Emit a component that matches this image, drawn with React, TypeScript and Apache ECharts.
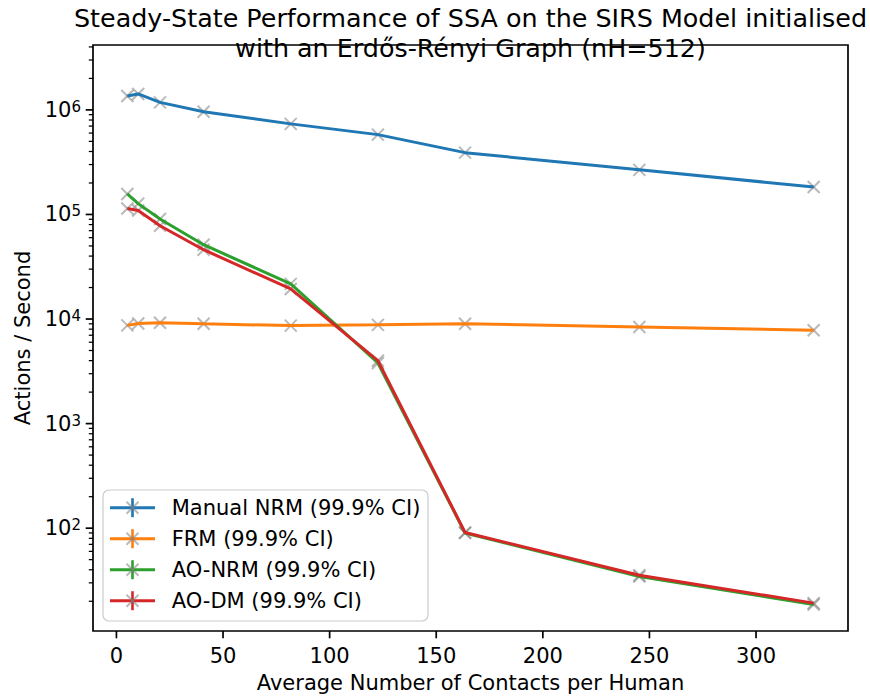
import { useEffect, useRef } from 'react';
import * as echarts from 'echarts';

// ---- data ----
const contacts = [5.11, 10.22, 20.44, 40.88, 81.76, 122.64, 163.52, 245.28, 327.04];
const manualNRM = [1.36e6, 1.42e6, 1.18e6, 9.6e5, 7.35e5, 5.8e5, 3.9e5, 2.67e5, 1.83e5];
const frm = [8.7e3, 9.05e3, 9.2e3, 9.0e3, 8.65e3, 8.8e3, 9.0e3, 8.4e3, 7.8e3];
const aoNRM = [1.57e5, 1.27e5, 9.05e4, 5.14e4, 2.17e4, 3.8e3, 90, 34.5, 18.6];
const aoDM = [1.14e5, 1.09e5, 7.8e4, 4.6e4, 1.94e4, 4.0e3, 91, 35.5, 19.2];

const seriesNames = ['Manual NRM (99.9% CI)', 'FRM (99.9% CI)', 'AO-NRM (99.9% CI)', 'AO-DM (99.9% CI)'];
const seriesValues = [manualNRM, frm, aoNRM, aoDM];
const colors = ['#1f77b4', '#ff7f0e', '#2ca02c', '#d62728'];

const xTicks = [0, 50, 100, 150, 200, 250, 300];
const yMajorTicks = [1e2, 1e3, 1e4, 1e5, 1e6];
const yMinorMultipliers = [2, 3, 4, 5, 6, 7, 8, 9];

const titleLines = [
  'Steady-State Performance of SSA on the SIRS Model initialised',
  'with an Erdős-Rényi Graph (nH=512)',
];
const xLabel = 'Average Number of Contacts per Human';
const yLabel = 'Actions / Second';

const X_MIN = -10.99;
const X_MAX = 343.14;
const Y_MIN = Math.pow(10, 1.0167);
const Y_MAX = Math.pow(10, 6.6205);

const FONT = '"DejaVu Sans", "Liberation Sans", sans-serif';

export default function App() {
  const ref = useRef<HTMLDivElement>(null);

  useEffect(() => {
    if (!ref.current) return;
    const chart = echarts.init(ref.current, null, { renderer: 'svg' });

    // tick data: [x, y, kind] kind 0 = x major, 1 = y major, 2 = y minor
    const tickData: number[][] = [];
    xTicks.forEach((t) => tickData.push([t, Y_MIN, 0]));
    yMajorTicks.forEach((t) => tickData.push([X_MIN, t, 1]));
    for (let e = 1; e <= 6; e++) {
      yMinorMultipliers.forEach((m) => {
        const v = m * Math.pow(10, e);
        if (v > Y_MIN && v < Y_MAX) tickData.push([X_MIN, v, 2]);
      });
    }

    const series: any[] = [];
    seriesValues.forEach((vals, i) => {
      const data = contacts.map((x, j) => [x, vals[j]]);
      series.push({
        name: seriesNames[i],
        type: 'line',
        data,
        showSymbol: false,
        symbol: 'none',
        lineStyle: { color: colors[i], width: 3 },
        itemStyle: { color: colors[i] },
        z: 2,
      });
      series.push({
        name: seriesNames[i] + ' markers',
        type: 'custom',
        data,
        z: 2,
        clip: false,
        renderItem: (_p: any, api: any) => {
          const c = api.coord([api.value(0), api.value(1)]);
          const s = 6;
          const st = { stroke: 'rgba(128,128,128,0.55)', lineWidth: 2, fill: 'none' };
          return {
            type: 'group',
            children: [
              { type: 'line', shape: { x1: c[0] - s, y1: c[1] - s, x2: c[0] + s, y2: c[1] + s }, style: st },
              { type: 'line', shape: { x1: c[0] - s, y1: c[1] + s, x2: c[0] + s, y2: c[1] - s }, style: st },
            ],
          };
        },
      });
    });

    series.push({
      name: 'ticks',
      type: 'custom',
      data: tickData,
      clip: false,
      silent: true,
      z: 5,
      encode: { x: 0, y: 1 },
      renderItem: (_p: any, api: any) => {
        const kind = api.value(2);
        if (kind === 0) {
          const p = api.coord([api.value(0), Y_MIN]);
          return {
            type: 'line',
            shape: { x1: p[0], y1: p[1], x2: p[0], y2: p[1] + 7.3 },
            style: { stroke: '#000', lineWidth: 1.7 },
          };
        }
        const p = api.coord([X_MIN, api.value(1)]);
        const len = kind === 1 ? 7.3 : 4.2;
        return {
          type: 'line',
          shape: { x1: p[0] - len, y1: p[1], x2: p[0], y2: p[1] },
          style: { stroke: '#000', lineWidth: kind === 1 ? 1.7 : 1.25 },
        };
      },
    });

    // legend drawn as graphic
    const legendX = 103;
    const legendY = 490;
    const rowH = 31;
    const legendChildren: any[] = [
      {
        type: 'rect',
        shape: { x: legendX, y: legendY, width: 325, height: 131, r: 6 },
        style: { fill: 'rgba(255,255,255,0.8)', stroke: '#cccccc', lineWidth: 1.2 },
      },
    ];
    seriesNames.forEach((name, i) => {
      const cy = legendY + 17.7 + rowH * i;
      const hx = 132.5;
      legendChildren.push(
        { type: 'line', shape: { x1: 110, y1: cy, x2: 155, y2: cy }, style: { stroke: colors[i], lineWidth: 3 } },
        { type: 'line', shape: { x1: hx, y1: cy - 9.5, x2: hx, y2: cy + 9.5 }, style: { stroke: colors[i], lineWidth: 2.6 } },
        { type: 'line', shape: { x1: hx - 6, y1: cy - 6, x2: hx + 6, y2: cy + 6 }, style: { stroke: 'rgba(128,128,128,0.55)', lineWidth: 2 } },
        { type: 'line', shape: { x1: hx - 6, y1: cy + 6, x2: hx + 6, y2: cy - 6 }, style: { stroke: 'rgba(128,128,128,0.55)', lineWidth: 2 } },
        {
          type: 'text',
          x: 171.7,
          y: cy,
          style: {
            text: name,
            fontSize: 21,
            fontFamily: FONT,
            fill: '#000',
            align: 'left',
            verticalAlign: 'middle',
            textAlign: 'left',
            textVerticalAlign: 'middle',
          },
        }
      );
    });

    const titleGraphics = titleLines.map((t, i) => ({
      type: 'text',
      x: 470.5,
      y: 17.5 + 30 * i,
      style: {
        text: t,
        fontSize: 25.4,
        fontFamily: FONT,
        fill: '#000',
        align: 'center',
        verticalAlign: 'middle',
        textAlign: 'center',
        textVerticalAlign: 'middle',
      },
    }));

    const option: any = {
      animation: false,
      backgroundColor: '#ffffff',
      textStyle: { fontFamily: FONT },
      grid: {
        left: 93,
        right: 22,
        top: 45,
        bottom: 66,
        show: true,
        borderColor: '#000',
        borderWidth: 1.7,
        backgroundColor: 'transparent',
        containLabel: false,
      },
      xAxis: {
        type: 'value',
        min: X_MIN,
        max: X_MAX,
        splitNumber: 7,
        name: xLabel,
        nameLocation: 'middle',
        nameGap: 41,
        nameTextStyle: { fontSize: 21, fontFamily: FONT, color: '#000' },
        axisLine: { show: false },
        axisTick: { show: false },
        splitLine: { show: false },
        axisLabel: {
          fontSize: 21,
          fontFamily: FONT,
          color: '#000',
          margin: 14.6,
          showMinLabel: false,
          showMaxLabel: false,
          formatter: (v: number) => (Math.abs(v / 50 - Math.round(v / 50)) < 1e-6 ? String(Math.round(v)) : ''),
        },
      },
      yAxis: {
        type: 'log',
        logBase: 10,
        min: Y_MIN,
        max: Y_MAX,
        name: yLabel,
        nameLocation: 'middle',
        nameRotate: 90,
        nameGap: 60,
        nameTextStyle: { fontSize: 21, fontFamily: FONT, color: '#000' },
        axisLine: { show: false },
        axisTick: { show: false },
        splitLine: { show: false },
        minorTick: { show: false },
        axisLabel: {
          margin: 12,
          color: '#000',
          formatter: (v: number) => {
            const l = Math.log10(v);
            const e = Math.round(l);
            if (Math.abs(l - e) > 1e-6) return '';
            return '{b|10}{s|' + e + '}';
          },
          rich: {
            b: { fontSize: 21, fontFamily: FONT, color: '#000' },
            s: { fontSize: 15, fontFamily: FONT, color: '#000', verticalAlign: 'top' },
          },
        },
      },
      series,
      graphic: [
        ...titleGraphics,
        { type: 'group', z: 100, children: legendChildren },
      ],
    };

    chart.setOption(option);
    return () => chart.dispose();
  }, []);

  return (
    <div
      ref={ref}
      style={{ position: 'fixed', left: 0, top: 0, width: 870, height: 698, background: '#fff' }}
    />
  );
}
